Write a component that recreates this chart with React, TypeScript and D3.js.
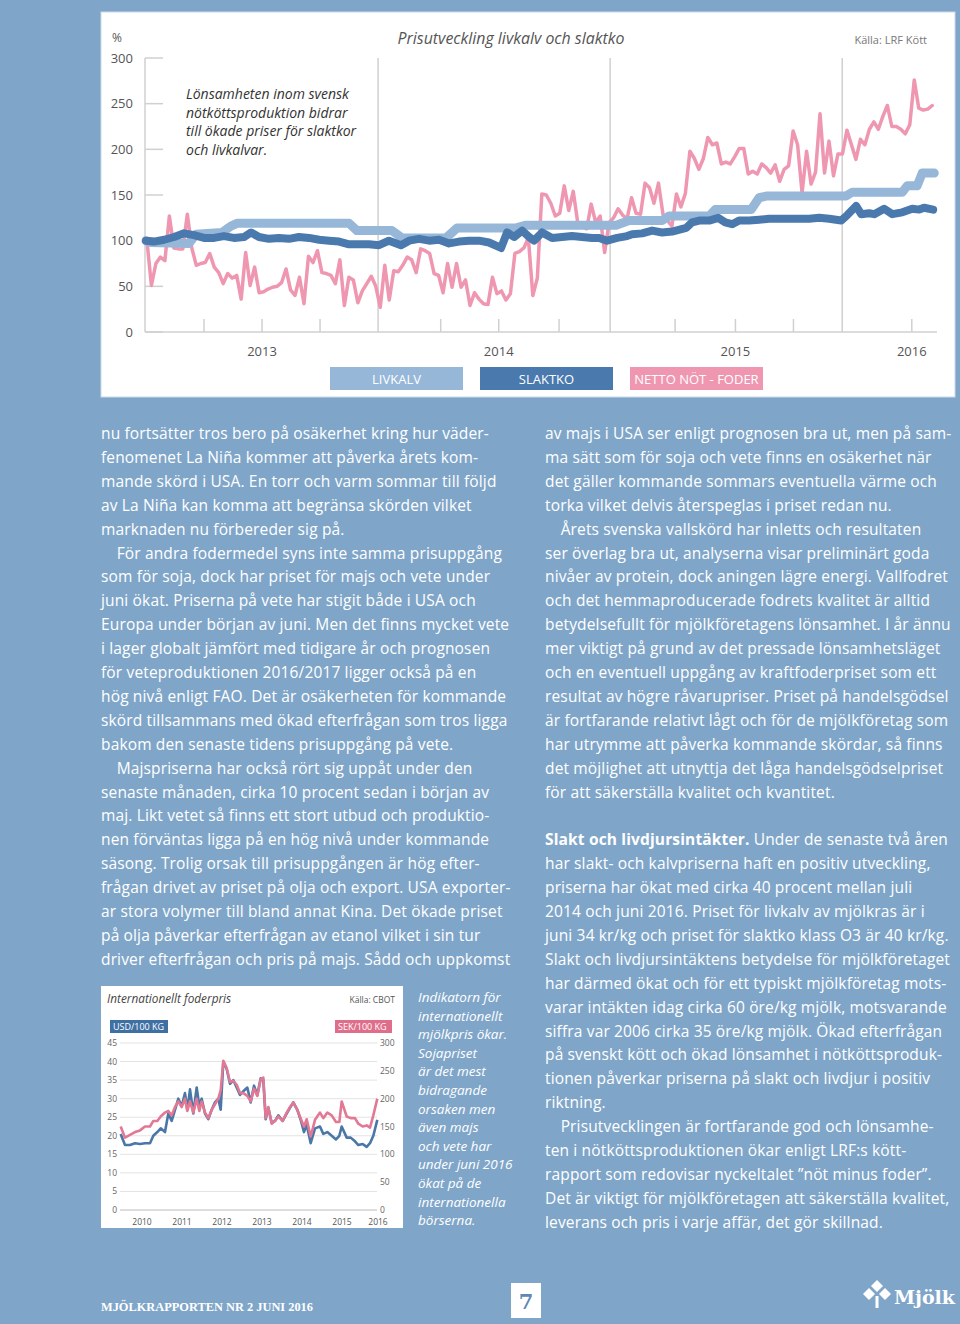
import React from 'react';
import * as d3 from 'd3';

// ---------- Top chart data (index 100 = start) ----------
const NETTO_START = 2013.004;
const NETTO_END = 2016.388;
const nettoNotFoder = [
  100, 51, 75, 82, 78, 127, 92, 91, 91, 129, 92, 73, 75, 76, 86, 71, 65, 53, 64, 59,
  62, 36, 87, 51, 71, 43, 44, 47, 49, 50, 54, 69, 46, 40, 60, 31, 83, 76, 89, 65,
  64, 62, 53, 79, 29, 60, 57, 32, 45, 53, 61, 50, 27, 73, 35, 67, 66, 73, 82, 79,
  65, 91, 89, 86, 64, 62, 43, 75, 49, 75, 49, 57, 29, 43, 36, 31, 30, 60, 42, 45,
  35, 42, 86, 88, 92, 103, 40, 59, 151, 150, 141, 127, 130, 160, 133, 154, 120, 115, 113, 140,
  120, 127, 87, 120, 125, 135, 128, 124, 147, 130, 129, 163, 158, 141, 163, 129, 122, 116, 151, 137,
  152, 198, 190, 178, 190, 213, 205, 207, 184, 186, 184, 192, 201, 201, 173, 176, 173, 184, 180, 174,
  183, 165, 178, 182, 220, 205, 152, 198, 162, 175, 239, 174, 209, 171, 195, 195, 221, 205, 189, 211,
  205, 222, 230, 222, 236, 248, 225, 225, 222, 217, 227, 276, 245, 243, 244, 248,
];

const livkalvTime = [
  2013.0, 2013.022, 2013.185, 2013.216, 2013.328, 2013.366, 2013.392, 2013.875, 2013.909, 2014.06,
  2014.103, 2014.293, 2014.341, 2014.595, 2014.638, 2015.026, 2015.082, 2015.224, 2015.254, 2015.427,
  2015.453, 2015.608, 2015.642, 2015.677, 2016.017, 2016.043, 2016.259, 2016.28, 2016.323, 2016.345, 2016.397,
];
const livkalvValue = [
  100, 98, 97, 107, 109, 116, 119, 119, 111, 111,
  103, 103, 114, 114, 117, 117, 122, 122, 127, 127,
  134, 134, 147, 149, 149, 153, 153, 160, 160, 174, 174,
];

const slaktkoTime = [
  2013.0, 2013.034, 2013.078, 2013.121, 2013.164, 2013.207, 2013.25, 2013.293, 2013.336, 2013.379,
  2013.422, 2013.453, 2013.487, 2013.53, 2013.573, 2013.616, 2013.659, 2013.703, 2013.746, 2013.789,
  2013.832, 2013.875, 2013.918, 2013.961, 2014.004, 2014.047, 2014.099, 2014.134, 2014.177, 2014.22,
  2014.263, 2014.306, 2014.349, 2014.392, 2014.435, 2014.478, 2014.53, 2014.556, 2014.586, 2014.621,
  2014.651, 2014.672, 2014.707, 2014.75, 2014.793, 2014.836, 2014.879, 2014.922, 2014.953, 2014.987,
  2015.03, 2015.073, 2015.095, 2015.138, 2015.181, 2015.224, 2015.267, 2015.328, 2015.353, 2015.384,
  2015.427, 2015.466, 2015.496, 2015.526, 2015.556, 2015.599, 2015.642, 2015.685, 2015.728, 2015.772,
  2015.815, 2015.858, 2015.901, 2015.944, 2015.996, 2016.022, 2016.06, 2016.082, 2016.116, 2016.138,
  2016.181, 2016.216, 2016.259, 2016.302, 2016.332, 2016.353, 2016.392,
];
const slaktkoValue = [
  100, 99, 101, 104, 108, 106, 103, 103, 105, 103,
  104, 109, 104, 102, 103, 102, 104, 103, 101, 100,
  99, 96, 96, 96, 95, 100, 95, 100, 102, 100,
  101, 97, 99, 100, 100, 98, 92, 109, 104, 111,
  104, 100, 109, 103, 104, 105, 104, 103, 103, 100,
  103, 105, 107, 108, 111, 109, 110, 114, 120, 122,
  122, 125, 120, 118, 122, 122, 123, 124, 124, 124,
  124, 124, 125, 124, 122, 128, 138, 129, 130, 129,
  135, 129, 131, 135, 134, 136, 134,
];

const yTicksTop = [0, 50, 100, 150, 200, 250, 300];
const quarterTicks = [2013.25, 2013.5, 2013.75, 2014.27, 2014.52, 2014.78, 2015.28, 2015.54, 2015.79, 2016.3];
const yearLines = [2014, 2015, 2016];
const yearLabels = ['2013', '2014', '2015', '2016'];
const yearLabelPos = [2013.5, 2014.52, 2015.54, 2016.3];
const legendItems = ['LIVKALV', 'SLAKTKO', 'NETTO NÖT - FODER'];

// ---------- Small chart data ----------
const feedTime = [
  2009.967, 2010.075, 2010.2, 2010.325, 2010.45, 2010.575, 2010.7, 2010.783, 2010.883, 2010.967,
  2011.075, 2011.158, 2011.242, 2011.325, 2011.408, 2011.492, 2011.575, 2011.633, 2011.7, 2011.783,
  2011.867, 2011.933, 2011.992, 2012.075, 2012.158, 2012.242, 2012.325, 2012.408, 2012.467, 2012.533,
  2012.617, 2012.7, 2012.783, 2012.867, 2012.95, 2013.033, 2013.133, 2013.217, 2013.3, 2013.383,
  2013.467, 2013.533, 2013.592, 2013.658, 2013.742, 2013.825, 2013.908, 2014.017, 2014.117, 2014.2,
  2014.283, 2014.383, 2014.475, 2014.55, 2014.617, 2014.717, 2014.825, 2014.95, 2015.033, 2015.133,
  2015.242, 2015.35, 2015.433, 2015.492, 2015.617, 2015.717, 2015.825, 2015.908, 2016.017, 2016.117,
  2016.2, 2016.283, 2016.383,
];
const usdPer100kg = [
  20.5, 17.5, 17.5, 18, 17.8, 18, 18, 20, 21, 22,
  21, 26, 24, 27, 30, 28, 31.5, 27, 32.5, 26,
  33, 28, 30, 26, 24.5, 27, 29, 30, 27, 40,
  38, 34, 35, 33, 31, 32, 33, 29, 33.5, 31,
  35.5, 35, 24.5, 27.5, 23.5, 24, 25.5, 24, 26, 27.5,
  29, 27, 24, 21, 23, 18, 22, 22.5, 20.5, 21,
  20, 19, 20, 22.5, 19.5, 19.5, 18.5, 17.5, 17.8, 17,
  18, 20, 24.3,
];
const sekPer100kg = [
  150, 130, 135, 140, 143, 150, 150, 160, 160, 168,
  175, 178, 170, 185, 195, 185, 200, 178, 195, 175,
  200, 178, 195, 175, 165, 180, 190, 200, 215, 268,
  255, 230, 232, 225, 210, 210, 205, 195, 218, 205,
  235, 238, 165, 185, 155, 160, 168, 160, 175, 185,
  193, 180, 163, 150, 163, 132, 162, 175, 165, 175,
  170, 158, 158, 195, 168, 165, 165, 155, 150, 152,
  148, 170, 200,
];
const usdTicks = [0, 5, 10, 15, 20, 25, 30, 35, 40, 45];
const sekTicks = [0, 50, 100, 150, 200, 250, 300];
const feedYears = ['2010', '2011', '2012', '2013', '2014', '2015', '2016'];
const feedYearPos = [2010.5, 2011.5, 2012.5, 2013.5, 2014.5, 2015.5, 2016.4];

// ---------- Text ----------
const leftColumn = [
  'nu fortsätter tros bero på osäkerhet kring hur väder-',
  'fenomenet La Niña kommer att påverka årets kom-',
  'mande skörd i USA. En torr och varm sommar till följd',
  'av La Niña kan komma att begränsa skörden vilket',
  'marknaden nu förbereder sig på.',
  '\u2003För andra fodermedel syns inte samma prisuppgång',
  'som för soja, dock har priset för majs och vete under',
  'juni ökat. Priserna på vete har stigit både i USA och',
  'Europa under början av juni. Men det finns mycket vete',
  'i lager globalt jämfört med tidigare år och prognosen',
  'för veteproduktionen 2016/2017 ligger också på en',
  'hög nivå enligt FAO. Det är osäkerheten för kommande',
  'skörd tillsammans med ökad efterfrågan som tros ligga',
  'bakom den senaste tidens prisuppgång på vete.',
  '\u2003Majspriserna har också rört sig uppåt under den',
  'senaste månaden, cirka 10 procent sedan i början av',
  'maj. Likt vetet så finns ett stort utbud och produktio-',
  'nen förväntas ligga på en hög nivå under kommande',
  'säsong. Trolig orsak till prisuppgången är hög efter-',
  'frågan drivet av priset på olja och export. USA exporter-',
  'ar stora volymer till bland annat Kina. Det ökade priset',
  'på olja påverkar efterfrågan av etanol vilket i sin tur',
  'driver efterfrågan och pris på majs. Sådd och uppkomst',
];
const rightColumn = [
  'av majs i USA ser enligt prognosen bra ut, men på sam-',
  'ma sätt som för soja och vete finns en osäkerhet när',
  'det gäller kommande sommars eventuella värme och',
  'torka vilket delvis återspeglas i priset redan nu.',
  '\u2003Årets svenska vallskörd har inletts och resultaten',
  'ser överlag bra ut, analyserna visar preliminärt goda',
  'nivåer av protein, dock aningen lägre energi. Vallfodret',
  'och det hemmaproducerade fodrets kvalitet är alltid',
  'betydelsefullt för mjölkföretagens lönsamhet. I år ännu',
  'mer viktigt på grund av det pressade lönsamhetsläget',
  'och en eventuell uppgång av kraftfoderpriset som ett',
  'resultat av högre råvarupriser. Priset på handelsgödsel',
  'är fortfarande relativt lågt och för de mjölkföretag som',
  'har utrymme att påverka kommande skördar, så finns',
  'det möjlighet att utnyttja det låga handelsgödselpriset',
  'för att säkerställa kvalitet och kvantitet.',
  '',
  '#Slakt och livdjursintäkter.# Under de senaste två åren',
  'har slakt- och kalvpriserna haft en positiv utveckling,',
  'priserna har ökat med cirka 40 procent mellan juli',
  '2014 och juni 2016. Priset för livkalv av mjölkras är i',
  'juni 34 kr/kg och priset för slaktko klass O3 är 40 kr/kg.',
  'Slakt och livdjursintäktens betydelse för mjölkföretaget',
  'har därmed ökat och för ett typiskt mjölkföretag mots-',
  'varar intäkten idag cirka 60 öre/kg mjölk, motsvarande',
  'siffra var 2006 cirka 35 öre/kg mjölk. Ökad efterfrågan',
  'på svenskt kött och ökad lönsamhet i nötköttsproduk-',
  'tionen påverkar priserna på slakt och livdjur i positiv',
  'riktning.',
  '\u2003Prisutvecklingen är fortfarande god och lönsamhe-',
  'ten i nötköttsproduktionen ökar enligt LRF:s kött-',
  'rapport som redovisar nyckeltalet ”nöt minus foder”.',
  'Det är viktigt för mjölkföretagen att säkerställa kvalitet,',
  'leverans och pris i varje affär, det gör skillnad.',
];
const sideNote = [
  'Indikatorn för', 'internationellt', 'mjölkpris ökar.', 'Sojapriset', 'är det mest',
  'bidragande', 'orsaken men', 'även majs', 'och vete har', 'under juni 2016',
  'ökat på de', 'internationella', 'börserna.',
];
const annotation = ['Lönsamheten inom svensk', 'nötköttsproduktion bidrar', 'till ökade priser för slaktkor', 'och livkalvar.'];

const BG = '#7fa6c9';
const PINK = '#ef97b1';
const LIGHT = '#97b7d9';
const DARK = '#4a79ae';
const FONT = '"Open Sans", "Noto Sans", sans-serif';

function renderLine(s: string) {
  if (s.startsWith('#')) {
    const end = s.indexOf('#', 1);
    return [
      <tspan key="b" fontWeight="700">{s.slice(1, end)}</tspan>,
      <tspan key="r">{s.slice(end + 1)}</tspan>,
    ];
  }
  return s;
}

export default function App() {
  // Top chart
  const x = d3.scaleLinear().domain([2013, 2016.4]).range([146, 935]);
  const y = d3.scaleLinear().domain([0, 300]).range([332, 58]);
  const idxToTime = d3.scaleLinear().domain([0, nettoNotFoder.length - 1]).range([NETTO_START, NETTO_END]);
  const lineIdx = d3.line<number>().x((_, i) => x(idxToTime(i))).y((d) => y(d));
  const linePair = d3.line<[number, number]>().x((d) => x(d[0])).y((d) => y(d[1]));
  const livkalvPts = livkalvTime.map((t, i) => [t, livkalvValue[i]] as [number, number]);
  const slaktkoPts = slaktkoTime.map((t, i) => [t, slaktkoValue[i]] as [number, number]);

  const legendBand = d3.scaleBand<string>().domain(legendItems).range([330, 763]).paddingInner(17 / 150);
  const legendColors = [LIGHT, DARK, PINK];

  // Small chart
  const fx = d3.scaleLinear().domain([2010, 2016.4]).range([122, 378]);
  const fyL = d3.scaleLinear().domain([0, 45]).range([1210, 1043]);
  const fyR = d3.scaleLinear().domain([0, 300]).range([1210, 1043]);
  const usdLine = d3.line<number>().x((_, i) => fx(feedTime[i])).y((d) => fyL(d));
  const sekLine = d3.line<number>().x((_, i) => fx(feedTime[i])).y((d) => fyR(d));

  const bodyStep = 23.9;

  return (
    <svg width={960} height={1324} style={{ position: 'absolute', left: 0, top: 0, display: 'block' }} fontFamily={FONT}>
      <rect x={0} y={0} width={960} height={1324} fill={BG} />

      {/* ---------- Top chart panel ---------- */}
      <rect x={101} y={12} width={854} height={385} fill="#fff" stroke="#c9d9ea" strokeWidth={1} />
      <text x={112} y={42} fontSize={12} fill="#555">%</text>
      <text x={511} y={44} fontSize={15.9} fontStyle="italic" fill="#555" textAnchor="middle">Prisutveckling livkalv och slaktko</text>
      <text x={927} y={44} fontSize={11} fill="#777" textAnchor="end">Källa: LRF Kött</text>

      {yearLines.map((t) => (
        <line key={t} x1={x(t)} x2={x(t)} y1={58} y2={332} stroke="#c4c4c4" strokeWidth={1.2} />
      ))}
      <line x1={145} x2={145} y1={58} y2={332} stroke="#d0d0d0" strokeWidth={1.5} />
      <line x1={145} x2={937} y1={332} y2={332} stroke="#d0d0d0" strokeWidth={1.5} />
      {yTicksTop.map((v) => (
        <g key={v}>
          <line x1={145} x2={163} y1={y(v)} y2={y(v)} stroke="#d0d0d0" strokeWidth={1.5} />
          <text x={133} y={y(v) + 4.5} fontSize={13} fill="#555" textAnchor="end">{v}</text>
        </g>
      ))}
      {quarterTicks.map((t) => (
        <line key={t} x1={x(t)} x2={x(t)} y1={319} y2={332} stroke="#d0d0d0" strokeWidth={1.5} />
      ))}
      {yearLabels.map((s, i) => (
        <text key={s} x={x(yearLabelPos[i])} y={356} fontSize={13} fill="#555" textAnchor="middle">{s}</text>
      ))}

      {annotation.map((s, i) => (
        <text key={s} x={186} y={99 + i * 18.7} fontSize={14} fontStyle="italic" fill="#333">{s}</text>
      ))}

      <path d={lineIdx(nettoNotFoder) || ''} fill="none" stroke={PINK} strokeWidth={3.5} strokeLinejoin="round" strokeLinecap="round" />
      <path d={linePair(livkalvPts) || ''} fill="none" stroke={LIGHT} strokeWidth={9} strokeLinejoin="round" strokeLinecap="round" />
      <path d={linePair(slaktkoPts) || ''} fill="none" stroke={DARK} strokeWidth={8} strokeLinejoin="round" strokeLinecap="round" />

      {legendItems.map((s, i) => (
        <g key={s}>
          <rect x={legendBand(s)} y={367} width={legendBand.bandwidth()} height={23} fill={legendColors[i]} />
          <text x={(legendBand(s) || 0) + legendBand.bandwidth() / 2} y={383.5} fontSize={13} fill="#fff" textAnchor="middle">{s}</text>
        </g>
      ))}

      {/* ---------- Body text ---------- */}
      {leftColumn.map((s, i) => (
        <text key={'l' + i} x={101} y={439 + i * bodyStep} fontSize={15.5} letterSpacing={0.15} fill="#fff" xmlSpace="preserve">{renderLine(s)}</text>
      ))}
      {rightColumn.map((s, i) => (
        <text key={'r' + i} x={545} y={439 + i * bodyStep} fontSize={15.5} letterSpacing={0.15} fill="#fff" xmlSpace="preserve">{renderLine(s)}</text>
      ))}

      {/* ---------- Small chart ---------- */}
      <rect x={101} y={986} width={302} height={242} fill="#fff" />
      <text x={107} y={1003} fontSize={11.8} fontStyle="italic" fill="#444">Internationellt foderpris</text>
      <text x={395} y={1003} fontSize={8.5} fill="#555" textAnchor="end">Källa: CBOT</text>
      <rect x={110} y={1020} width={58} height={13} fill="#3f70a4" />
      <text x={113} y={1030} fontSize={9} fill="#fff">USD/100 KG</text>
      <rect x={335} y={1020} width={57} height={13} fill="#df6e8b" />
      <text x={338} y={1030} fontSize={9} fill="#fff">SEK/100 KG</text>
      {usdTicks.map((v) => (
        <g key={v}>
          <line x1={120} x2={377} y1={fyL(v)} y2={fyL(v)} stroke={v === 0 ? '#bbb' : '#e3e3e3'} strokeWidth={1} />
          <text x={117} y={fyL(v) + 3} fontSize={8.5} fill="#666" textAnchor="end">{v}</text>
        </g>
      ))}
      {sekTicks.map((v) => (
        <text key={v} x={380} y={fyR(v) + 3} fontSize={8.5} fill="#666">{v}</text>
      ))}
      {feedYears.map((s, i) => (
        <text key={s} x={fx(feedYearPos[i])} y={1225} fontSize={8.5} fill="#555" textAnchor="middle">{s}</text>
      ))}
      <path d={usdLine(usdPer100kg) || ''} fill="none" stroke="#4a77a7" strokeWidth={2.6} strokeLinejoin="round" />
      <path d={sekLine(sekPer100kg) || ''} fill="none" stroke="#e27894" strokeWidth={2.6} strokeLinejoin="round" />

      {sideNote.map((s, i) => (
        <text key={s} x={418} y={1002 + i * 18.6} fontSize={13.5} fontStyle="italic" fill="#fff">{s}</text>
      ))}

      {/* ---------- Footer ---------- */}
      <text x={101} y={1311} fontSize={13} fontWeight="700" fill="#fff" fontFamily='"Liberation Serif", serif' textLength={212} lengthAdjust="spacingAndGlyphs">MJÖLKRAPPORTEN NR 2 JUNI 2016</text>
      <rect x={511} y={1283} width={30} height={35} fill="#fff" />
      <text x={526} y={1309} fontSize={21} fontWeight="700" fill="#5f88b5" textAnchor="middle" fontFamily='"DejaVu Serif", serif'>7</text>
      <g fill="#fff">
        <path d="M877,1280 l6,6 l-6,6 l-6,-6 z" />
        <path d="M869,1288 l6,6 l-6,6 l-6,-6 z" />
        <path d="M885,1288 l6,6 l-6,6 l-6,-6 z" />
        <rect x={875.5} y={1296} width={3} height={12} />
      </g>
      <text x={894} y={1304} fontSize={19} fontWeight="700" fill="#fff" fontFamily='"DejaVu Serif", serif' textLength={61} lengthAdjust="spacingAndGlyphs">Mjölk</text>
    </svg>
  );
}
